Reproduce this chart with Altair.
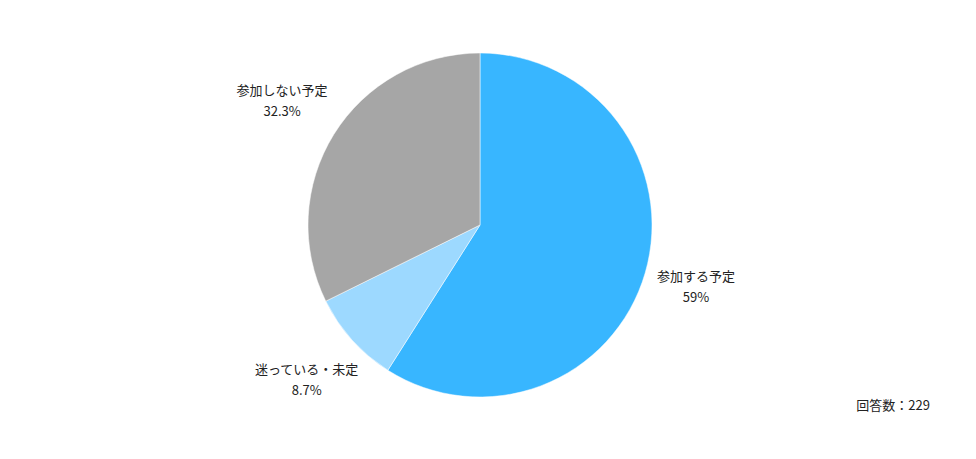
import altair as alt
import pandas as pd

categories = ["参加する予定", "迷っている・未定", "参加しない予定"]
values = [59.0, 8.7, 32.3]
value_labels = ["59%", "8.7%", "32.3%"]
colors = ["#38b6ff", "#9dd9ff", "#a6a6a6"]
total_label = "回答数：229"

df = pd.DataFrame({
    "category": categories,
    "value": values,
    "pct": value_labels,
    "idx": list(range(len(categories))),
})
df["label"] = df["category"] + "\n" + df["pct"]

FONT = "Noto Sans CJK JP"
total = float(sum(values))
theta_scale = alt.Scale(domain=[0, total])

base = alt.Chart(df).transform_stack(
    stack="value", groupby=[], as_=["v0", "v1"], sort=[alt.SortField("idx", order="ascending")]
).transform_calculate(mid="(datum.v0 + datum.v1) / 2")

pie = base.mark_arc(outerRadius=172, stroke="white", strokeWidth=0.5).encode(
    theta=alt.Theta("v0:Q", scale=theta_scale),
    theta2="v1:Q",
    color=alt.Color("category:N", scale=alt.Scale(domain=categories, range=colors), legend=None),
)

txt_kw = dict(font=FONT, fontSize=13, color="#222222", lineBreak="\n", lineHeight=21,
              align="center", baseline="middle", dy=-11)

lab1 = base.transform_filter(alt.datum.idx == 0).mark_text(radius=225, **txt_kw).encode(
    theta=alt.Theta("mid:Q", scale=theta_scale), text="label:N")
lab2 = base.transform_filter(alt.datum.idx > 0).mark_text(radius=233, **txt_kw).encode(
    theta=alt.Theta("mid:Q", scale=theta_scale), text="label:N")

note = alt.Chart(pd.DataFrame({"t": [total_label]})).mark_text(
    font=FONT, fontSize=13, color="#222222", align="right", baseline="middle"
).encode(text="t:N", x=alt.value(922), y=alt.value(398))

chart = alt.layer(pie, lab1, lab2, note).properties(
    width=944, height=434, padding=0, autosize="none"
).configure_view(stroke=None)

chart.save("out.html", embed_options={"renderer": "svg", "actions": False})
